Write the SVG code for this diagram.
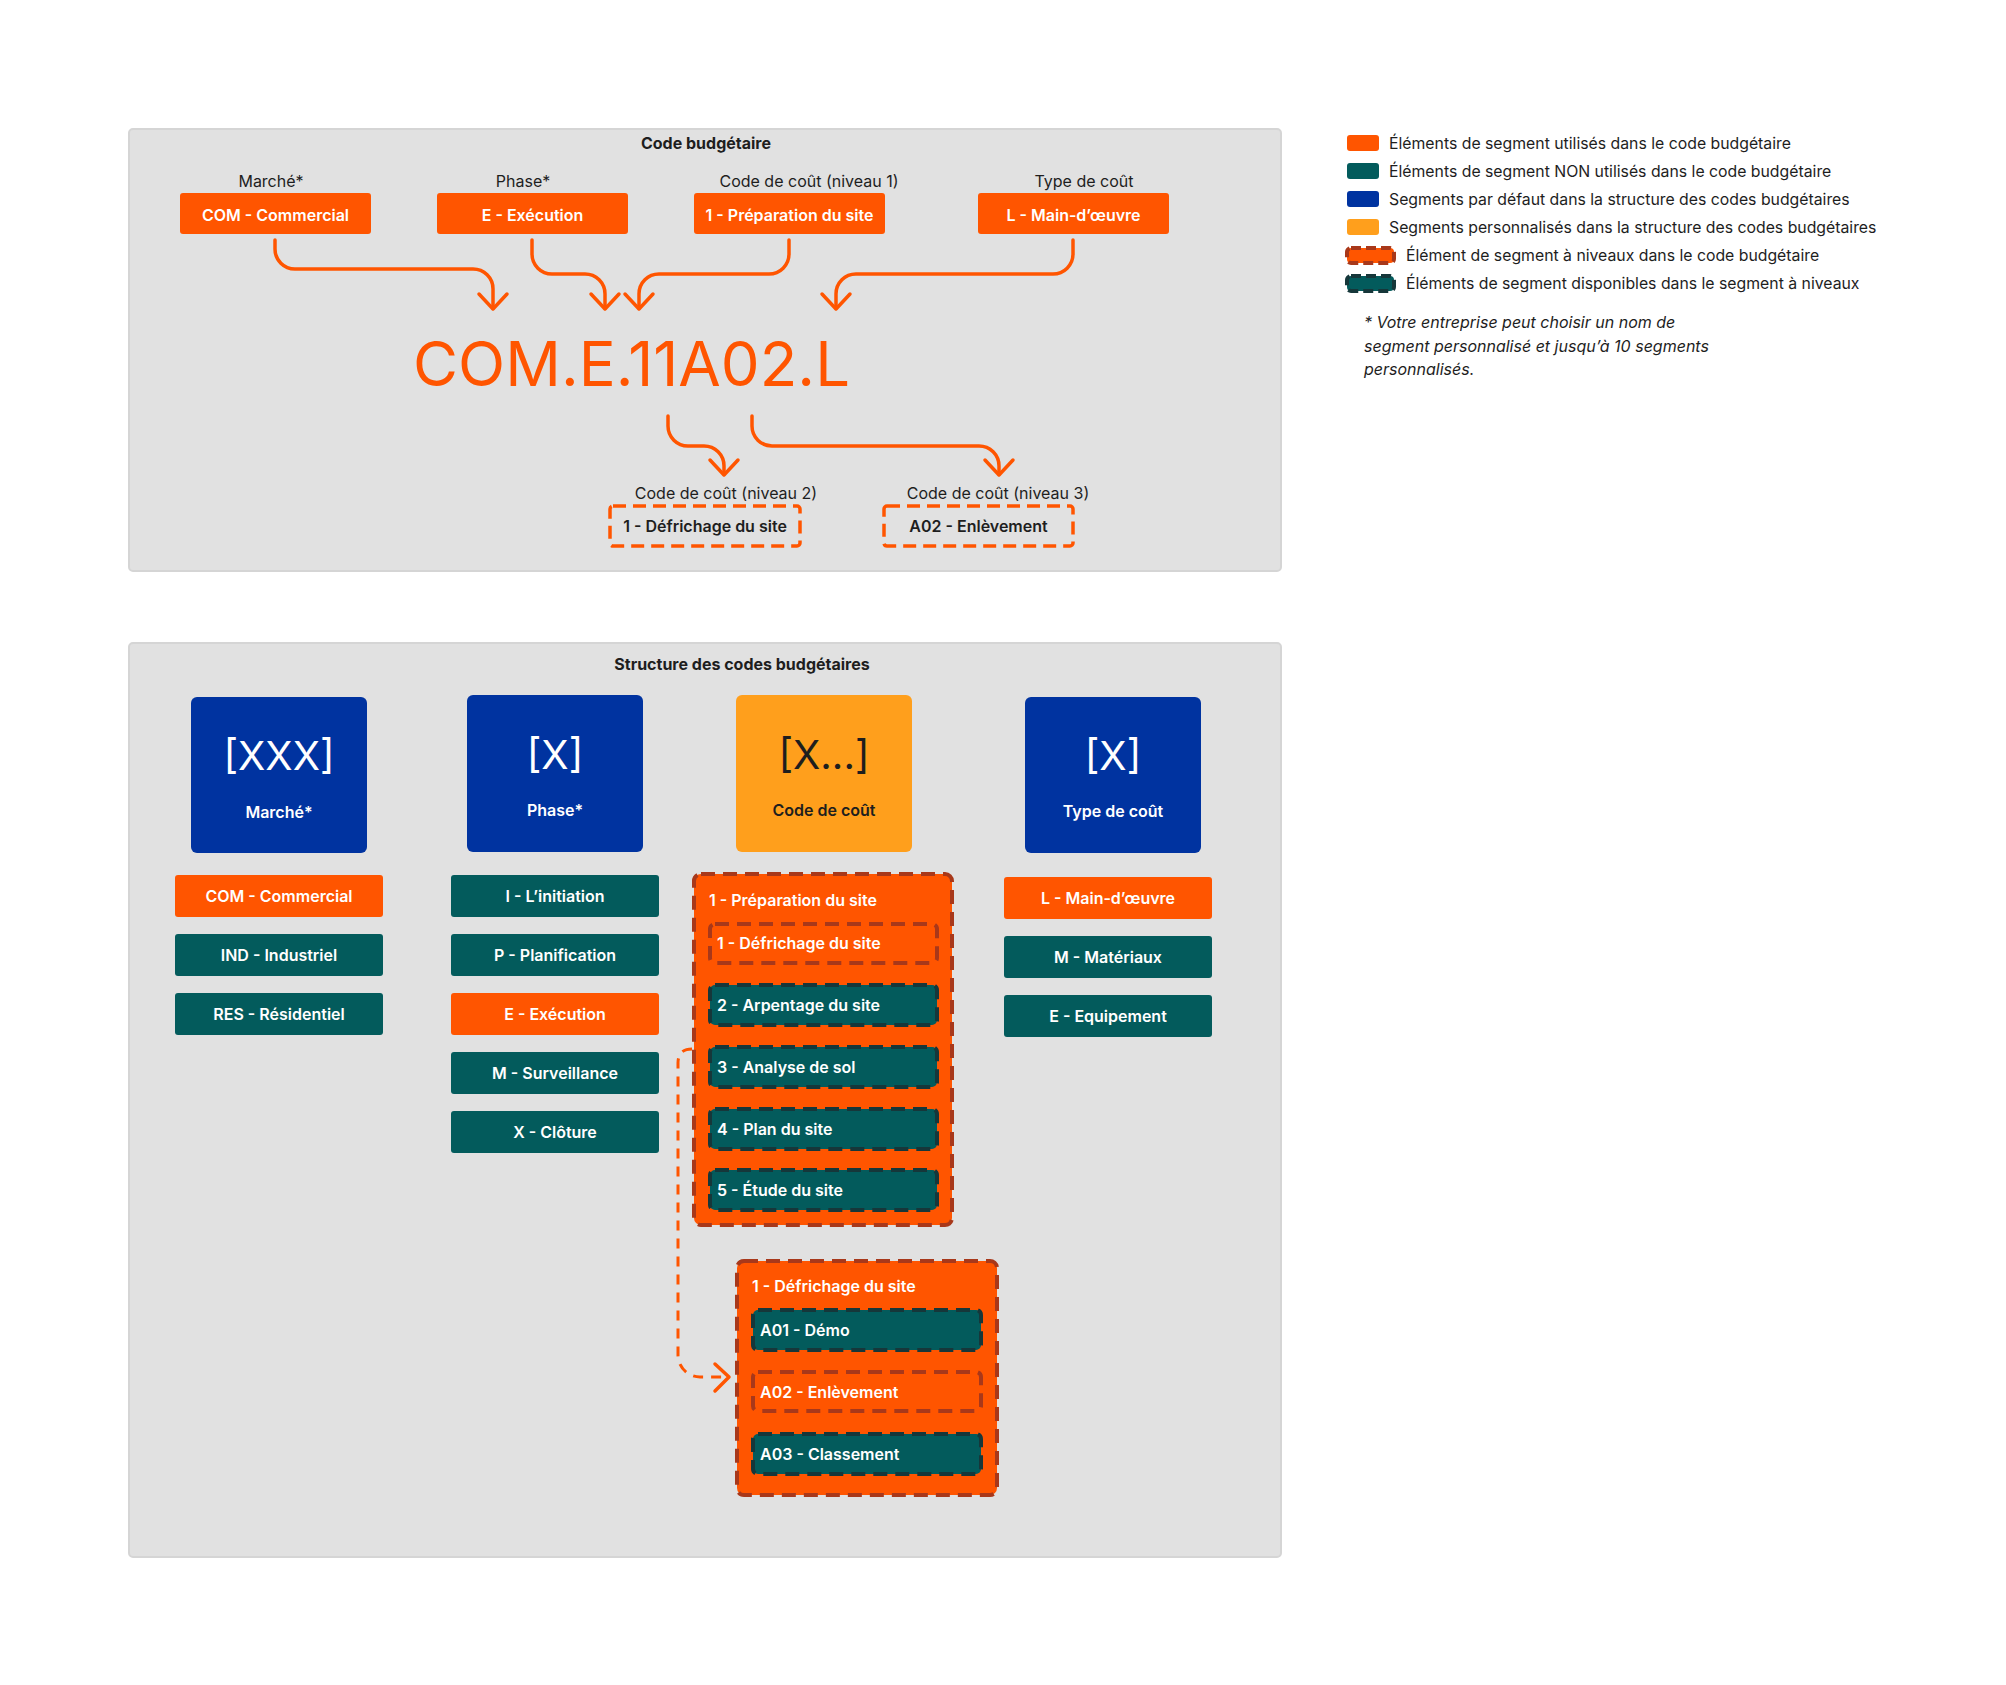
<svg xmlns="http://www.w3.org/2000/svg" width="2006" height="1685" viewBox="0 0 2006 1685">
<defs>
<style>
text{font-family:"Inter","Liberation Sans",sans-serif;}
.panel{fill:#E1E1E1;stroke:#D5D5D5;stroke-width:2;}
.title{font-size:16px;font-weight:700;fill:#1E1E1E;text-anchor:middle;}
.lbl{font-size:16px;font-weight:400;fill:#1E1E1E;text-anchor:middle;}
.bt{font-size:16px;font-weight:600;fill:#FFFFFF;text-anchor:middle;}
.btl{font-size:16px;font-weight:600;fill:#FFFFFF;}
.btd{font-size:16px;font-weight:600;fill:#1E1E1E;text-anchor:middle;}
.or{fill:#FF5500;}
.tl{fill:#035B5C;}
.bl{fill:#0033A0;}
.ye{fill:#FF9F1C;}
.big{font-size:40px;font-weight:400;fill:#FFFFFF;text-anchor:middle;}
.ordash{fill:#FF5500;stroke:#A8381A;stroke-width:4;stroke-dasharray:14 8;}
.tldash{fill:#035B5C;stroke:#16373A;stroke-width:4;stroke-dasharray:14 8;}
.topdash{fill:none;stroke:#FF5500;stroke-width:3.5;stroke-dasharray:13 7;}
.conn{fill:none;stroke:#FF5500;stroke-width:3.5;stroke-linecap:round;stroke-linejoin:round;}
.conndash{fill:none;stroke:#FF5500;stroke-width:3;stroke-dasharray:10 8;}
.leg{font-size:15.8px;font-weight:400;fill:#1E1E1E;}
.note{font-size:16px;font-style:italic;fill:#1E1E1E;}
</style>
</defs>
<rect width="2006" height="1685" fill="#FFFFFF"/>

<!-- Top panel -->
<g id="panel-code">
<rect class="panel" x="129" y="129" width="1152" height="442" rx="4"/>
<text class="title" x="706" y="149">Code budgétaire</text>
</g>

<g id="top-com">
<text class="lbl" x="271" y="187">Marché*</text>
<rect class="or" x="180" y="193" width="191" height="41" rx="3"/>
<text class="bt" x="275.5" y="221">COM - Commercial</text>
</g>
<g id="top-e">
<text class="lbl" x="523" y="187">Phase*</text>
<rect class="or" x="437" y="193" width="191" height="41" rx="3"/>
<text class="bt" x="532.5" y="221">E - Exécution</text>
</g>
<g id="top-1">
<text class="lbl" x="809" y="187">Code de coût (niveau 1)</text>
<rect class="or" x="694" y="193" width="191" height="41" rx="3"/>
<text class="bt" x="789.5" y="221">1 - Préparation du site</text>
</g>
<g id="top-l">
<text class="lbl" x="1084" y="187">Type de coût</text>
<rect class="or" x="978" y="193" width="191" height="41" rx="3"/>
<text class="bt" x="1073.5" y="221">L - Main-d’œuvre</text>
</g>

<g id="code-result">
<text x="413" y="386" font-size="62" fill="#FF5500" textLength="437" lengthAdjust="spacingAndGlyphs">COM.E.11A02.L</text>
</g>

<g id="top-niv2">
<text class="lbl" x="726" y="499">Code de coût (niveau 2)</text>
<rect class="topdash" x="610" y="506" width="190" height="40" rx="3"/>
<text class="btd" x="705" y="532">1 - Défrichage du site</text>
</g>
<g id="top-niv3">
<text class="lbl" x="998" y="499">Code de coût (niveau 3)</text>
<rect class="topdash" x="884" y="506" width="189" height="40" rx="3"/>
<text class="btd" x="978.5" y="532">A02 - Enlèvement</text>
</g>

<!-- Legend -->
<g id="legend">
<rect class="or" x="1347" y="135" width="32" height="16" rx="3"/>
<text class="leg" x="1389" y="149">Éléments de segment utilisés dans le code budgétaire</text>
<rect class="tl" x="1347" y="163" width="32" height="16" rx="3"/>
<text class="leg" x="1389" y="177">Éléments de segment NON utilisés dans le code budgétaire</text>
<rect class="bl" x="1347" y="191" width="32" height="16" rx="3"/>
<text class="leg" x="1389" y="205">Segments par défaut dans la structure des codes budgétaires</text>
<rect class="ye" x="1347" y="219" width="32" height="16" rx="3"/>
<text class="leg" x="1389" y="233">Segments personnalisés dans la structure des codes budgétaires</text>
<rect class="ordash" x="1347" y="248" width="47" height="15" rx="4" style="stroke-dasharray:10 5"/>
<text class="leg" x="1406" y="261">Élément de segment à niveaux dans le code budgétaire</text>
<rect class="tldash" x="1347" y="276" width="47" height="15" rx="4" style="stroke-dasharray:10 5"/>
<text class="leg" x="1406" y="289">Éléments de segment disponibles dans le segment à niveaux</text>
<text class="note" x="1364" y="328">* Votre entreprise peut choisir un nom de</text>
<text class="note" x="1364" y="352">segment personnalisé et jusqu’à 10 segments</text>
<text class="note" x="1364" y="375">personnalisés.</text>
</g>

<!-- Bottom panel -->
<g id="panel-structure">
<rect class="panel" x="129" y="643" width="1152" height="914" rx="4"/>
<text class="title" x="742" y="670">Structure des codes budgétaires</text>
</g>

<g id="seg-marche">
<rect class="bl" x="191" y="697" width="176" height="156" rx="6"/>
<text class="big" x="279" y="770">[XXX]</text>
<text class="bt" x="279" y="818">Marché*</text>
</g>
<g id="seg-phase">
<rect class="bl" x="467" y="695" width="176" height="157" rx="6"/>
<text class="big" x="555" y="769">[X]</text>
<text class="bt" x="555" y="816">Phase*</text>
</g>
<g id="seg-code">
<rect class="ye" x="736" y="695" width="176" height="157" rx="6"/>
<text class="big" x="824" y="769" style="fill:#1E1E1E">[X...]</text>
<text class="btd" x="824" y="816">Code de coût</text>
</g>
<g id="seg-type">
<rect class="bl" x="1025" y="697" width="176" height="156" rx="6"/>
<text class="big" x="1113" y="770">[X]</text>
<text class="bt" x="1113" y="817">Type de coût</text>
</g>

<g id="col-marche">
<rect class="or" x="175" y="875" width="208" height="42" rx="3"/>
<text class="bt" x="279" y="902">COM - Commercial</text>
<rect class="tl" x="175" y="934" width="208" height="42" rx="3"/>
<text class="bt" x="279" y="961">IND - Industriel</text>
<rect class="tl" x="175" y="993" width="208" height="42" rx="3"/>
<text class="bt" x="279" y="1020">RES - Résidentiel</text>
</g>

<g id="col-phase">
<rect class="tl" x="451" y="875" width="208" height="42" rx="3"/>
<text class="bt" x="555" y="902">I - L’initiation</text>
<rect class="tl" x="451" y="934" width="208" height="42" rx="3"/>
<text class="bt" x="555" y="961">P - Planification</text>
<rect class="or" x="451" y="993" width="208" height="42" rx="3"/>
<text class="bt" x="555" y="1020">E - Exécution</text>
<rect class="tl" x="451" y="1052" width="208" height="42" rx="3"/>
<text class="bt" x="555" y="1079">M - Surveillance</text>
<rect class="tl" x="451" y="1111" width="208" height="42" rx="3"/>
<text class="bt" x="555" y="1138">X - Clôture</text>
</g>

<g id="col-type">
<rect class="or" x="1004" y="877" width="208" height="42" rx="3"/>
<text class="bt" x="1108" y="904">L - Main-d’œuvre</text>
<rect class="tl" x="1004" y="936" width="208" height="42" rx="3"/>
<text class="bt" x="1108" y="963">M - Matériaux</text>
<rect class="tl" x="1004" y="995" width="208" height="42" rx="3"/>
<text class="bt" x="1108" y="1022">E - Equipement</text>
</g>

<g id="level1">
<rect class="ordash" x="694" y="874" width="258" height="351" rx="7"/>
<text class="btl" x="709" y="906">1 - Préparation du site</text>
<rect class="ordash" x="710" y="924" width="227" height="39" rx="5"/>
<text class="btl" x="717" y="949">1 - Défrichage du site</text>
<rect class="tldash" x="710" y="985" width="227" height="40" rx="5"/>
<text class="btl" x="717" y="1011">2 - Arpentage du site</text>
<rect class="tldash" x="710" y="1047" width="227" height="40" rx="5"/>
<text class="btl" x="717" y="1073">3 - Analyse de sol</text>
<rect class="tldash" x="710" y="1109" width="227" height="40" rx="5"/>
<text class="btl" x="717" y="1135">4 - Plan du site</text>
<rect class="tldash" x="710" y="1170" width="227" height="40" rx="5"/>
<text class="btl" x="717" y="1196">5 - Étude du site</text>
</g>

<g id="level2">
<rect class="ordash" x="737" y="1261" width="260" height="234" rx="7"/>
<text class="btl" x="752" y="1292">1 - Défrichage du site</text>
<rect class="tldash" x="753" y="1310" width="228" height="40" rx="5"/>
<text class="btl" x="760" y="1336">A01 - Démo</text>
<rect class="ordash" x="753" y="1372" width="228" height="39" rx="5"/>
<text class="btl" x="760" y="1398">A02 - Enlèvement</text>
<rect class="tldash" x="753" y="1434" width="228" height="40" rx="5"/>
<text class="btl" x="760" y="1460">A03 - Classement</text>
</g>

<!-- Connectors -->
<g id="connectors">
<path class="conn" d="M275,240 V249 A20,20 0 0 0 295,269 H473 A20,20 0 0 1 493,289 V308"/>
<path class="conn" d="M479,294 L493,309 L507,294"/>
<path class="conn" d="M532,240 V254 A20,20 0 0 0 552,274 H585 A20,20 0 0 1 605,294 V308"/>
<path class="conn" d="M591,294 L605,309 L619,294"/>
<path class="conn" d="M789,240 V254 A20,20 0 0 1 769,274 H659 A20,20 0 0 0 639,294 V308"/>
<path class="conn" d="M625,294 L639,309 L653,294"/>
<path class="conn" d="M1073,240 V254 A20,20 0 0 1 1053,274 H856 A20,20 0 0 0 836,294 V308"/>
<path class="conn" d="M822,294 L836,309 L850,294"/>
<path class="conn" d="M668,416 V426 A20,20 0 0 0 688,446 H704 A20,20 0 0 1 724,466 V474"/>
<path class="conn" d="M710,460 L724,475 L738,460"/>
<path class="conn" d="M752,416 V426 A20,20 0 0 0 772,446 H979 A20,20 0 0 1 999,466 V474"/>
<path class="conn" d="M985,460 L999,475 L1013,460"/>
<path class="conndash" d="M692,1049 Q678,1049 678,1063 V1355 A22,22 0 0 0 700,1377 H727"/>
<path class="conn" d="M715,1364 L729,1377 L715,1391"/>
</g>
</svg>
